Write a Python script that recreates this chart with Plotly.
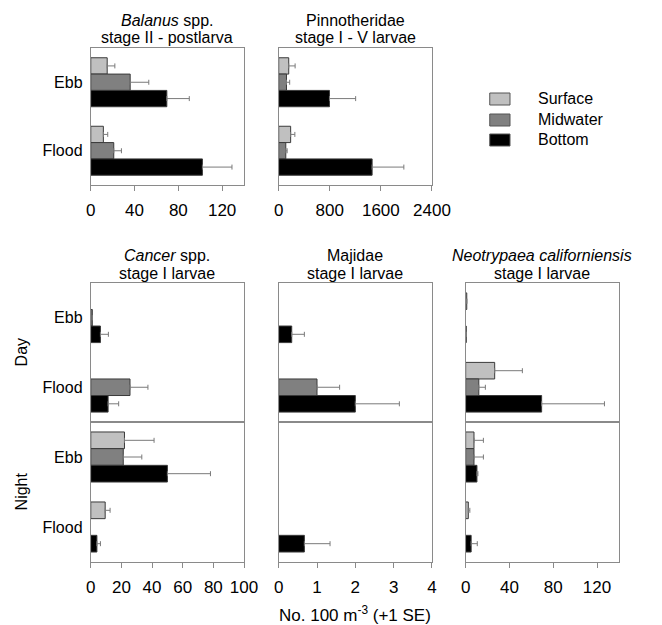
import plotly.graph_objects as go

# ---------------- data ----------------
categories = ["Ebb", "Flood"]
series = ["Surface", "Midwater", "Bottom"]
colors = ["#c0c0c0", "#808080", "#000000"]

# Balanus spp. stage II - postlarva
bal_surface = [15, 11.5]
bal_midwater = [36, 21]
bal_bottom = [69.5, 102]
bal_surface_se = [7, 4]
bal_midwater_se = [17, 7]
bal_bottom_se = [20.5, 27]

# Pinnotheridae stage I - V larvae
pin_surface = [157, 187]
pin_midwater = [122, 111]
pin_bottom = [795, 1463]
pin_surface_se = [100, 66]
pin_midwater_se = [50, 21]
pin_bottom_se = [410, 497]

# Cancer spp. stage I larvae
can_day_surface = [None, None]
can_day_midwater = [1, 25.6]
can_day_bottom = [6.3, 11.3]
can_day_surface_se = [None, None]
can_day_midwater_se = [None, 11.7]
can_day_bottom_se = [5.2, 6.9]
can_night_surface = [22, 9.4]
can_night_midwater = [21.2, None]
can_night_bottom = [50, 4]
can_night_surface_se = [19.3, 3.2]
can_night_midwater_se = [12.1, None]
can_night_bottom_se = [28.1, 2.3]

# Majidae stage I larvae
maj_day_surface = [None, None]
maj_day_midwater = [None, 1.0]
maj_day_bottom = [0.34, 2.0]
maj_day_surface_se = [None, None]
maj_day_midwater_se = [None, 0.59]
maj_day_bottom_se = [0.33, 1.15]
maj_night_surface = [None, None]
maj_night_midwater = [None, None]
maj_night_bottom = [None, 0.67]
maj_night_surface_se = [None, None]
maj_night_midwater_se = [None, None]
maj_night_bottom_se = [None, 0.67]

# Neotrypaea californiensis stage I larvae
neo_day_surface = [1, 26.5]
neo_day_midwater = [None, 12]
neo_day_bottom = [0.5, 69.4]
neo_day_surface_se = [None, 25.3]
neo_day_midwater_se = [None, 6]
neo_day_bottom_se = [None, 57.4]
neo_night_surface = [7.6, 2.4]
neo_night_midwater = [7.6, None]
neo_night_bottom = [10.3, 5]
neo_night_surface_se = [8.6, 1.4]
neo_night_midwater_se = [8.6, None]
neo_night_bottom_se = [0.9, 5.6]

# ---------------- layout helpers ----------------
W, H = 662, 625
FONT = "Liberation Sans, Arial, sans-serif"
AXCOL = "#8a8a8a"

def fx(px):
    return px / W

def fy(py):
    return 1 - py / H

# panel: (means, ses, x px range, y px range, x range, dtick, show y labels, show x labels)
panels = [
    ([bal_surface, bal_midwater, bal_bottom], [bal_surface_se, bal_midwater_se, bal_bottom_se],
     (89, 248), (48, 185), [0, 140], 40, True, True),
    ([pin_surface, pin_midwater, pin_bottom], [pin_surface_se, pin_midwater_se, pin_bottom_se],
     (284, 443), (48, 185), [0, 2400], 800, False, True),
    ([can_day_surface, can_day_midwater, can_day_bottom], [can_day_surface_se, can_day_midwater_se, can_day_bottom_se],
     (89, 248), (283, 422), [0, 100], 20, True, False),
    ([can_night_surface, can_night_midwater, can_night_bottom], [can_night_surface_se, can_night_midwater_se, can_night_bottom_se],
     (89, 248), (422, 562), [0, 100], 20, True, True),
    ([maj_day_surface, maj_day_midwater, maj_day_bottom], [maj_day_surface_se, maj_day_midwater_se, maj_day_bottom_se],
     (284, 443), (283, 422), [0, 4], 1, False, False),
    ([maj_night_surface, maj_night_midwater, maj_night_bottom], [maj_night_surface_se, maj_night_midwater_se, maj_night_bottom_se],
     (284, 443), (422, 562), [0, 4], 1, False, True),
    ([neo_day_surface, neo_day_midwater, neo_day_bottom], [neo_day_surface_se, neo_day_midwater_se, neo_day_bottom_se],
     (478, 637), (283, 422), [0, 140], 40, False, False),
    ([neo_night_surface, neo_night_midwater, neo_night_bottom], [neo_night_surface_se, neo_night_midwater_se, neo_night_bottom_se],
     (478, 637), (422, 562), [0, 140], 40, False, True),
]

fig = go.Figure()
layout = {}
for i, (means, ses, xpx, ypx, xr, dt, showy, showx) in enumerate(panels):
    n = "" if i == 0 else str(i + 1)
    for s, (m, e) in enumerate(zip(means, ses)):
        fig.add_trace(go.Bar(
            x=m, y=categories, orientation="h", name=series[s],
            marker=dict(color=colors[s], line=dict(color="#3a3a3a", width=1)),
            error_x=dict(type="data", symmetric=False, array=e,
                         arrayminus=[0] * len(m), color="#7a7a7a", thickness=1, width=2.5),
            xaxis="x" + n, yaxis="y" + n,
            showlegend=False, legendgroup=series[s],
        ))
    layout["xaxis" + n] = dict(
        domain=[fx(xpx[0]), fx(xpx[1])], anchor="y" + n, range=xr, dtick=dt,
        showline=True, mirror=True, linecolor=AXCOL, linewidth=1,
        showgrid=False, zeroline=False,
        ticks="outside" if showx else "", ticklen=5, tickcolor=AXCOL,
        showticklabels=showx, ticklabelstandoff=5,
        tickfont=dict(family=FONT, size=17, color="black"),
    )
    layout["yaxis" + n] = dict(
        domain=[fy(ypx[1]), fy(ypx[0])], anchor="x" + n, type="category",
        categoryorder="array", categoryarray=categories, range=[1.5, -0.5],
        showline=True, mirror=True, linecolor=AXCOL, linewidth=1,
        showgrid=False, zeroline=False, ticks="",
        showticklabels=showy, ticklabelstandoff=4,
        tickfont=dict(family=FONT, size=16, color="black"),
    )

# titles
titles = [
    ("<i>Balanus</i> spp.", "stage II - postlarva", 168.5, 48),
    ("Pinnotheridae", "stage I - V larvae", 363.5, 48),
    ("<i>Cancer</i> spp.", "stage I larvae", 168.5, 283),
    ("Majidae", "stage I larvae", 363.5, 283),
    ("<i>Neotrypaea californiensis</i>", "stage I larvae", 557.5, 283),
]
ann = []
for l1, l2, cx, top in titles:
    for txt, dy in ((l1, -27), (l2, -10)):
        ann.append(dict(text=txt, x=fx(cx), y=fy(top + dy), xref="paper", yref="paper",
                        xanchor="center", yanchor="middle", showarrow=False,
                        font=dict(family=FONT, size=16, color="black")))
ann.append(dict(text="Day", x=fx(17), y=fy(352), xref="paper", yref="paper", textangle=-90,
                xanchor="center", yanchor="middle", showarrow=False,
                font=dict(family=FONT, size=16, color="black")))
ann.append(dict(text="Night", x=fx(17), y=fy(491), xref="paper", yref="paper", textangle=-90,
                xanchor="center", yanchor="middle", showarrow=False,
                font=dict(family=FONT, size=16, color="black")))
ann.append(dict(text="No. 100 m<sup>-3</sup> (+1 SE)", x=fx(363), y=fy(614), xref="paper", yref="paper",
                xanchor="center", yanchor="middle", showarrow=False,
                font=dict(family=FONT, size=17, color="black")))

# legend (drawn as key boxes + labels)
shapes = []
legend_rows = [99, 120, 140]
for s, row in enumerate(legend_rows):
    shapes.append(dict(type="rect", xref="paper", yref="paper",
                       x0=fx(503), x1=fx(524), y0=fy(row + 6), y1=fy(row - 6),
                       fillcolor=colors[s], line=dict(color="#555555", width=1)))
    ann.append(dict(text=series[s], x=fx(551), y=fy(row), xref="paper", yref="paper",
                    xanchor="left", yanchor="middle", showarrow=False,
                    font=dict(family=FONT, size=16, color="black")))

fig.update_layout(
    **layout,
    annotations=ann,
    shapes=shapes,
    barmode="group", bargap=0.285, bargroupgap=0,
    width=W, height=H, autosize=False,
    margin=dict(l=0, r=0, t=0, b=0),
    paper_bgcolor="white", plot_bgcolor="white",
    font=dict(family=FONT, size=16, color="black"),
    showlegend=False,
)

fig.write_html("out.html")
